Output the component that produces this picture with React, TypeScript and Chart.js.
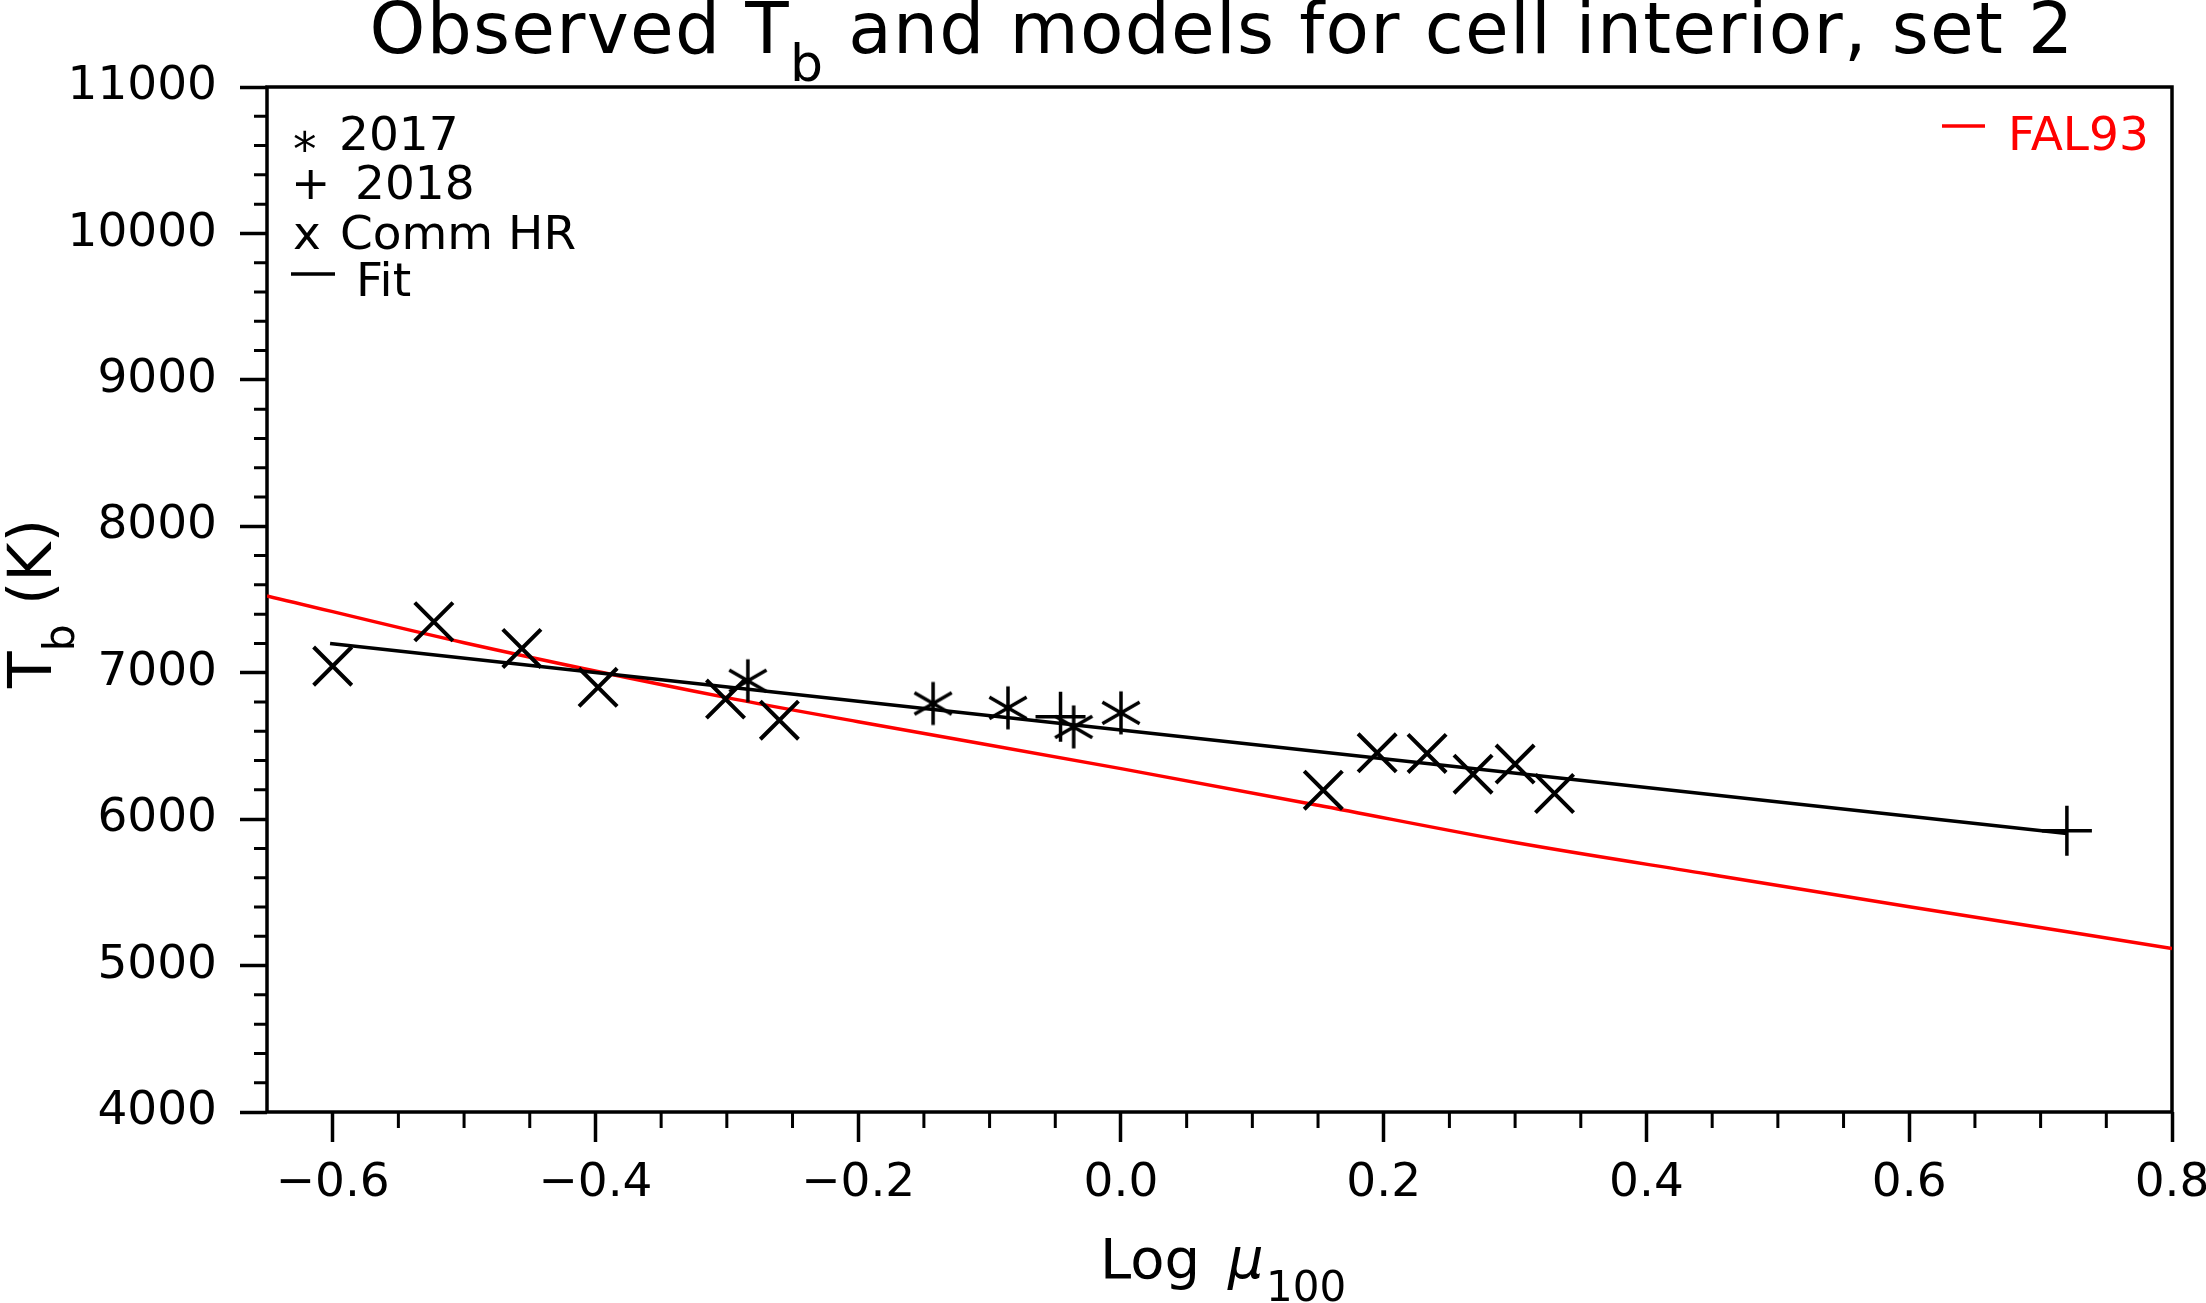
import React, { useEffect, useRef } from 'react';
import { Chart, registerables } from 'chart.js';

Chart.register(...registerables);

// ---- data ----
const commHRx = [-0.6, -0.523, -0.456, -0.398, -0.301, -0.26, 0.154, 0.195, 0.233, 0.268, 0.3, 0.33];
const commHRy = [7045, 7348, 7166, 6900, 6820, 6676, 6198, 6453, 6449, 6307, 6376, 6175];

const y2017x = [-0.284, -0.143, -0.086, -0.036, 0.0];
const y2017y = [6945, 6790, 6760, 6630, 6726];

const y2018x = [-0.046, 0.72];
const y2018y = [6699, 5920];

const fitX = [-0.602, 0.72];
const fitY = [7200, 5902];

const fal93X = [-0.65, -0.5, -0.3, -0.2, 0.0, 0.15, 0.3, 0.45, 0.6, 0.8];
const fal93Y = [7525, 7205, 6830, 6665, 6345, 6095, 5840, 5620, 5402, 5117];

const xMajorTicks = [-0.6, -0.4, -0.2, 0, 0.2, 0.4, 0.6, 0.8];
const xMinorTicks = [-0.55, -0.5, -0.45, -0.35, -0.3, -0.25, -0.15, -0.1, -0.05, 0.05, 0.1, 0.15, 0.25, 0.3, 0.35, 0.45, 0.5, 0.55, 0.65, 0.7, 0.75];
const yMajorTicks = [4000, 5000, 6000, 7000, 8000, 9000, 10000, 11000];
const yMinorTicks = [4200, 4400, 4600, 4800, 5200, 5400, 5600, 5800, 6200, 6400, 6600, 6800, 7200, 7400, 7600, 7800, 8200, 8400, 8600, 8800, 9200, 9400, 9600, 9800, 10200, 10400, 10600, 10800];

const titleText = ['Observed T', 'b', ' and models for cell interior, set 2'];
const legendLeft = [
  { sym: '*', label: '2017' },
  { sym: '+', label: '2018' },
  { sym: 'x', label: 'Comm HR' },
  { sym: '', label: 'Fit' },
];
const legendRightLabel = 'FAL93';

const FONT = '"DejaVu Sans"';
const RED = '#ff0000';

const zip = (xs: number[], ys: number[]) => xs.map((x, i) => ({ x, y: ys[i] }));

function makeAsterisk(): HTMLCanvasElement {
  const s = 50;
  const c = document.createElement('canvas');
  c.width = s;
  c.height = s;
  const g = c.getContext('2d')!;
  g.strokeStyle = '#000';
  g.lineWidth = 3.5;
  const cx = s / 2, cy = s / 2, r = 21.5;
  const dx = r * Math.cos(Math.PI / 6), dy = r * Math.sin(Math.PI / 6);
  g.beginPath();
  g.moveTo(cx, cy - r); g.lineTo(cx, cy + r);
  g.moveTo(cx - dx, cy - dy); g.lineTo(cx + dx, cy + dy);
  g.moveTo(cx - dx, cy + dy); g.lineTo(cx + dx, cy - dy);
  g.stroke();
  return c;
}

const framePlugin = {
  id: 'frameMinor',
  beforeDatasetsDraw(chart: any) {
    const { ctx, chartArea: a } = chart;
    const xs = chart.scales.x, ys = chart.scales.y;
    ctx.save();
    ctx.strokeStyle = '#000';
    ctx.lineWidth = 3.5;
    ctx.lineCap = 'square';
    ctx.strokeRect(a.left, a.top, a.right - a.left, a.bottom - a.top);
    ctx.lineCap = 'butt';
    ctx.lineWidth = 3;
    ctx.beginPath();
    for (const v of xMinorTicks) {
      const px = xs.getPixelForValue(v);
      ctx.moveTo(px, a.bottom);
      ctx.lineTo(px, a.bottom + 16);
    }
    for (const v of yMinorTicks) {
      const py = ys.getPixelForValue(v);
      ctx.moveTo(a.left, py);
      ctx.lineTo(a.left - 13, py);
    }
    ctx.stroke();
    ctx.restore();
  },
};

type Part = { t: string; font: string; dy?: number };
// text drawn character by character with a little extra tracking (the original font is wide)
function partWidth(ctx: CanvasRenderingContext2D, p: Part, sp: number) {
  ctx.font = p.font;
  return ctx.measureText(p.t).width + sp * p.t.length;
}
function seqWidth(ctx: CanvasRenderingContext2D, parts: Part[], sp = 0) {
  let w = 0;
  for (const p of parts) w += partWidth(ctx, p, sp);
  return w;
}
function drawSeq(ctx: CanvasRenderingContext2D, x: number, y: number, parts: Part[], sp = 0) {
  let cx = x;
  for (const p of parts) {
    ctx.font = p.font;
    if (sp === 0) {
      ctx.fillText(p.t, cx, y + (p.dy || 0));
      cx += ctx.measureText(p.t).width;
    } else {
      for (const ch of p.t) {
        ctx.fillText(ch, cx, y + (p.dy || 0));
        cx += ctx.measureText(ch).width + sp;
      }
    }
  }
}

const textPlugin = {
  id: 'texts',
  afterDraw(chart: any) {
    const ctx: CanvasRenderingContext2D = chart.ctx;
    const a = chart.chartArea;
    ctx.save();
    ctx.fillStyle = '#000';
    ctx.textAlign = 'left';
    ctx.textBaseline = 'alphabetic';

    // title
    const tParts: Part[] = [
      { t: titleText[0], font: `71px ${FONT}` },
      { t: titleText[1], font: `52px ${FONT}`, dy: 28 },
      { t: titleText[2], font: `71px ${FONT}` },
    ];
    const sp = 1.3;
    const tw = seqWidth(ctx, tParts, sp);
    const tcx = 1222;
    drawSeq(ctx, tcx - tw / 2, 53, tParts, sp);

    // x-axis title
    ctx.font = `56px ${FONT}`;
    ctx.fillText('Log', 1100, 1278);
    ctx.font = `italic 56px ${FONT}`;
    ctx.fillText('\u03bc', 1228, 1278);
    ctx.font = `42px ${FONT}`;
    ctx.fillText('100', 1266, 1301);

    // y-axis title (rotated)
    const yParts: Part[] = [
      { t: 'T', font: `60px ${FONT}` },
      { t: 'b', font: `43px ${FONT}`, dy: 23 },
      { t: ' (K)', font: `60px ${FONT}` },
    ];
    const yw = seqWidth(ctx, yParts);
    const ycy = (a.top + a.bottom) / 2 + 4;
    ctx.save();
    ctx.translate(51, ycy + yw / 2);
    ctx.rotate(-Math.PI / 2);
    drawSeq(ctx, 0, 0, yParts);
    ctx.restore();

    // legend (left)
    ctx.font = `47px ${FONT}`;
    ctx.fillText(legendLeft[0].sym, 293, 165);
    ctx.fillText(legendLeft[0].label, 339, 150);
    ctx.fillText(legendLeft[1].sym, 291, 199);
    ctx.fillText(legendLeft[1].label, 355, 199);
    ctx.fillText(legendLeft[2].sym, 293, 249);
    ctx.fillText(legendLeft[2].label, 340, 249);
    ctx.fillText(legendLeft[3].label, 356, 296);
    ctx.strokeStyle = '#000';
    ctx.lineWidth = 3.5;
    ctx.beginPath();
    ctx.moveTo(291, 274);
    ctx.lineTo(335, 274);
    ctx.stroke();

    // legend (right)
    ctx.strokeStyle = RED;
    ctx.beginPath();
    ctx.moveTo(1942, 126);
    ctx.lineTo(1985, 126);
    ctx.stroke();
    ctx.fillStyle = RED;
    ctx.fillText(legendRightLabel, 2008, 150);
    ctx.restore();
  },
};

export default function App() {
  const ref = useRef<HTMLCanvasElement | null>(null);
  useEffect(() => {
    if (!ref.current) return;
    const asterisk = makeAsterisk();
    const chart = new Chart(ref.current, {
      type: 'scatter',
      data: {
        datasets: [
          {
            label: 'Comm HR',
            data: zip(commHRx, commHRy),
            pointStyle: 'crossRot',
            pointRadius: 27,
            borderColor: '#000',
            backgroundColor: '#000',
            borderWidth: 4,
            showLine: false,
          },
          {
            label: '2017',
            data: zip(y2017x, y2017y),
            pointStyle: asterisk as any,
            pointRadius: 20,
            borderColor: '#000',
            backgroundColor: '#000',
            showLine: false,
          },
          {
            label: '2018',
            data: zip(y2018x, y2018y),
            pointStyle: 'cross',
            pointRadius: 25,
            borderColor: '#000',
            backgroundColor: '#000',
            borderWidth: 3.5,
            showLine: false,
          },
          {
            label: 'Fit',
            data: zip(fitX, fitY),
            showLine: true,
            borderColor: '#000',
            borderWidth: 3.5,
            pointRadius: 0,
            tension: 0,
          },
          {
            label: 'FAL93',
            data: zip(fal93X, fal93Y),
            showLine: true,
            borderColor: RED,
            borderWidth: 3.5,
            pointRadius: 0,
            cubicInterpolationMode: 'monotone',
          },
        ],
      },
      options: {
        animation: false,
        responsive: true,
        maintainAspectRatio: false,
        events: [],
        layout: { padding: { left: 0, top: 87, right: 34, bottom: 0 } },
        plugins: {
          legend: { display: false },
          tooltip: { enabled: false },
          title: { display: false },
        },
        scales: {
          x: {
            type: 'linear',
            min: -0.65,
            max: 0.8,
            afterBuildTicks: (s: any) => { s.ticks = xMajorTicks.map((v) => ({ value: v })); },
            afterFit: (s: any) => { s.height = 191; s.paddingLeft = 0; s.paddingRight = 0; },
            grid: { display: true, drawOnChartArea: false, drawTicks: true, tickLength: 30, tickWidth: 3.5, tickColor: '#000', color: '#000' },
            border: { display: false },
            ticks: {
              autoSkip: false,
              maxRotation: 0,
              padding: 14,
              color: '#000',
              font: { family: 'DejaVu Sans', size: 47 },
              callback: (v: any) => {
                const n = Number(v);
                if (Math.abs(n) < 1e-9) return '0.0';
                return n < 0 ? '\u2212' + Math.abs(n).toFixed(1) : n.toFixed(1);
              },
            },
          },
          y: {
            type: 'linear',
            min: 4000,
            max: 11000,
            afterBuildTicks: (s: any) => { s.ticks = yMajorTicks.map((v) => ({ value: v })); },
            afterFit: (s: any) => { s.width = 267; s.paddingTop = 0; s.paddingBottom = 0; },
            grid: { display: true, drawOnChartArea: false, drawTicks: true, tickLength: 27, tickWidth: 3.5, tickColor: '#000', color: '#000' },
            border: { display: false },
            ticks: {
              autoSkip: false,
              padding: 23,
              color: '#000',
              font: { family: 'DejaVu Sans', size: 47 },
              callback: (v: any) => String(v),
            },
          },
        },
      },
      plugins: [framePlugin, textPlugin],
    });
    return () => chart.destroy();
  }, []);

  return (
    <div style={{ position: 'fixed', left: 0, top: 0, width: 2206, height: 1303, background: '#fff' }}>
      <canvas ref={ref} />
    </div>
  );
}
